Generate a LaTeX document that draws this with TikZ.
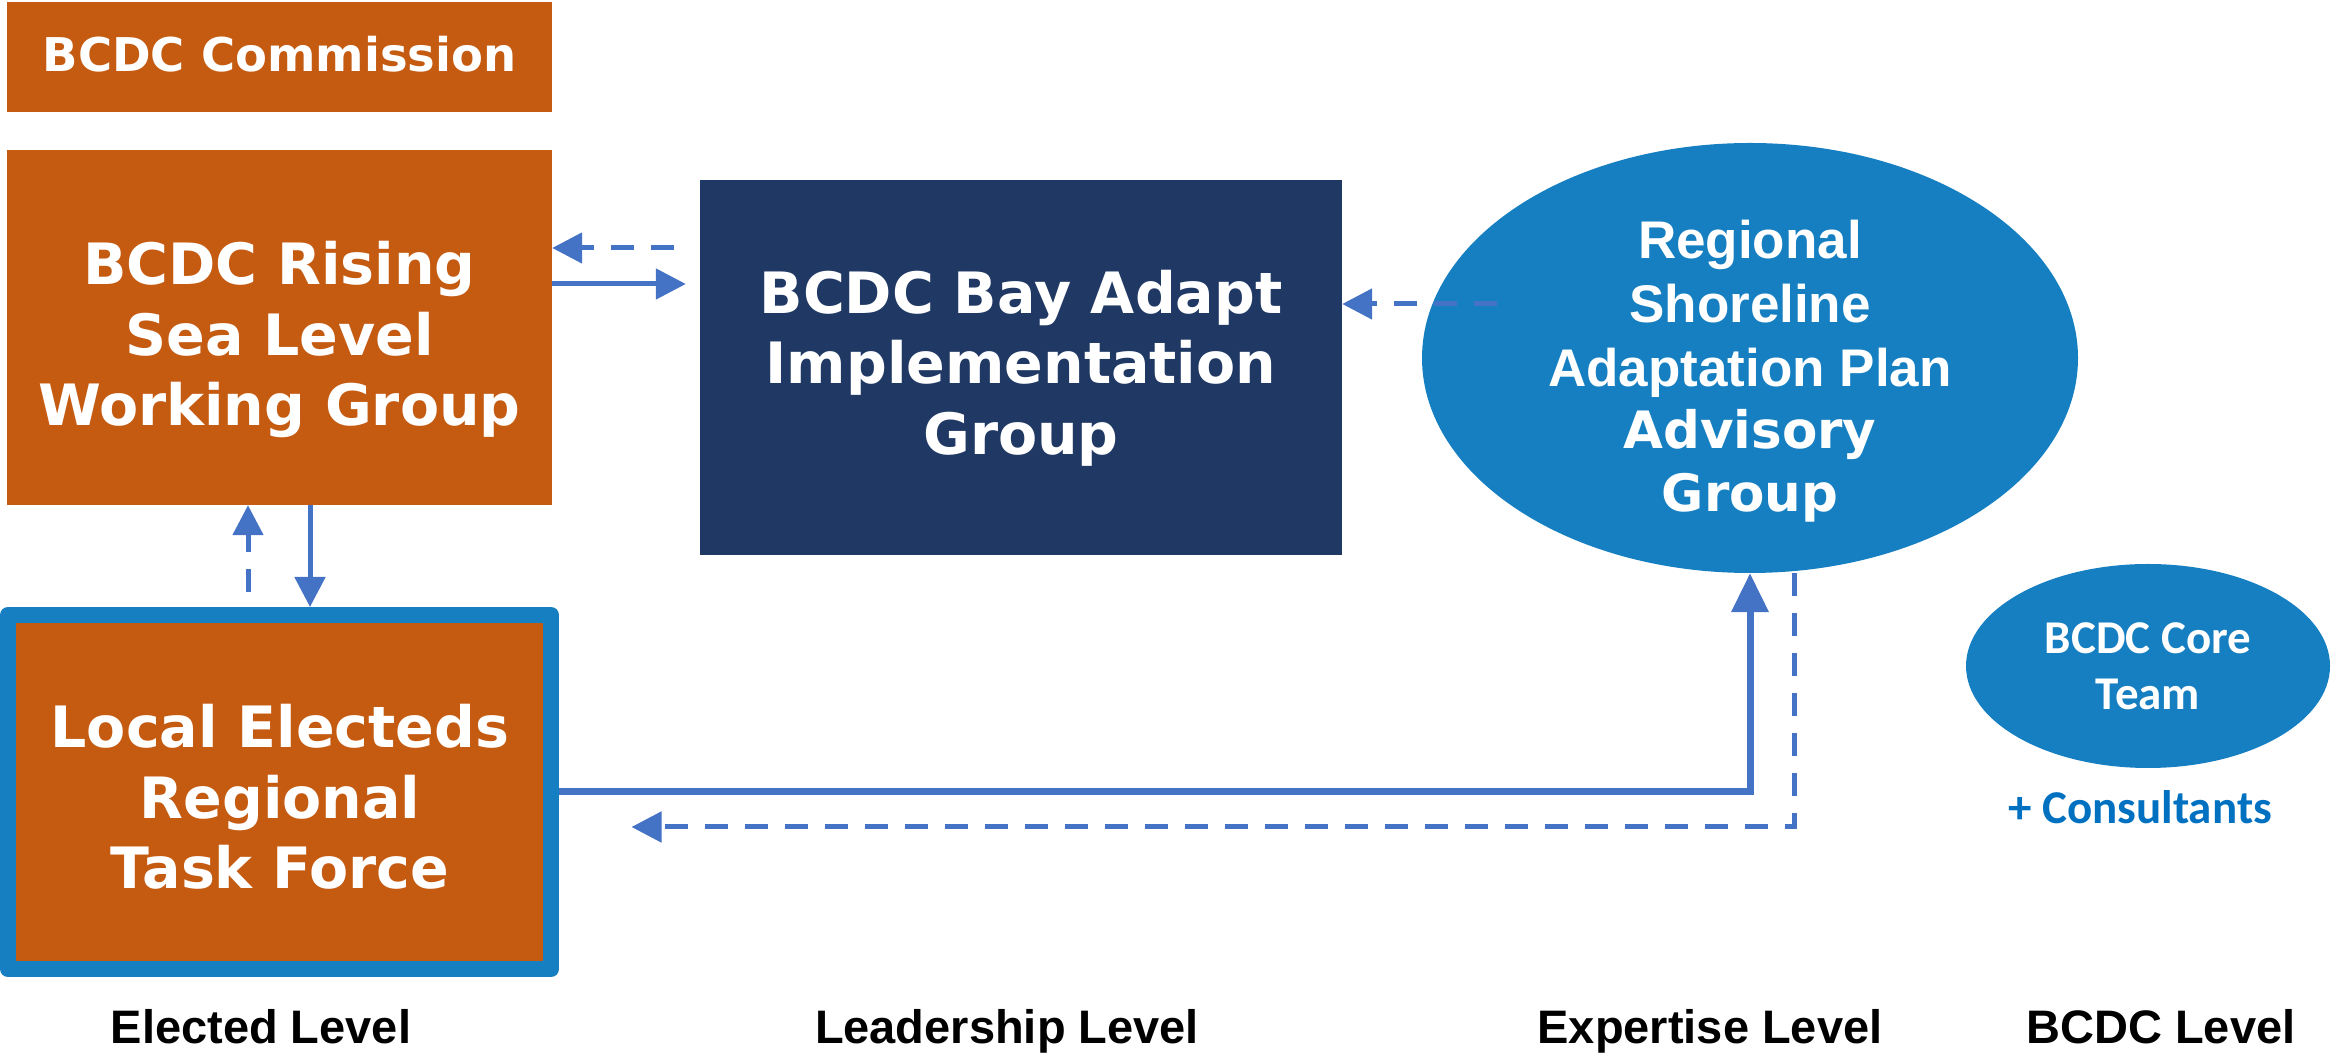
\documentclass[tikz,border=0pt]{standalone}
\usepackage{fontspec}
\usetikzlibrary{arrows.meta,shapes.geometric}
\newfontfamily\dejavu{DejaVu Sans}
\newfontfamily\libsans{Liberation Sans}
\newfontfamily\carlito{Carlito}
\definecolor{orng}{HTML}{C55A11}
\definecolor{navy}{HTML}{203864}
\definecolor{ellblue}{HTML}{167FC1}
\definecolor{arrblue}{HTML}{4472C4}
\definecolor{consblue}{HTML}{0070C0}
\begin{document}
\begin{tikzpicture}[x=1pt,y=1pt,
  obox/.style={rectangle, inner sep=0pt, fill=orng},
  nbox/.style={rectangle, inner sep=0pt, fill=navy},
  bbox/.style={rectangle, inner sep=0pt, fill=orng, draw=ellblue, line width=16pt, line join=round},
  ell/.style={ellipse, inner sep=0pt, fill=ellblue},
  txt/.style={text=white, inner sep=0pt, anchor=base},
  bigtxt/.style={txt, font=\dejavu\bfseries\fontsize{57pt}{60pt}\selectfont},
  comtxt/.style={txt, font=\dejavu\bfseries\fontsize{46.5pt}{50pt}\selectfont},
  ariatxt/.style={txt, font=\libsans\bfseries\fontsize{53pt}{56pt}\selectfont},
  advtxt/.style={txt, font=\dejavu\bfseries\fontsize{51.5pt}{55pt}\selectfont},
  coretxt/.style={txt, font=\carlito\bfseries\fontsize{47pt}{50pt}\selectfont},
  constxt/.style={inner sep=0pt, anchor=base, text=consblue, font=\carlito\bfseries\fontsize{47pt}{50pt}\selectfont},
  lvltxt/.style={inner sep=0pt, anchor=base, text=black, font=\libsans\bfseries\fontsize{47pt}{50pt}\selectfont},
  conn/.style={draw=arrblue, line width=5pt},
  dashline/.style={conn, dash pattern=on 23pt off 17pt},
  arrowend/.style={-{Triangle[length=30pt,width=30pt]}},
  bigarrowend/.style={-{Triangle[length=39pt,width=36pt]}}
]
\useasboundingbox (0,0) rectangle (2331,1052);

% boxes
\node[obox, minimum width=545pt, minimum height=110pt] (comm) at (279.5,995) {};
\node[obox, minimum width=545pt, minimum height=355pt] (rising) at (279.5,724.5) {};
\node[nbox, minimum width=642pt, minimum height=375pt] (bay) at (1021,684.5) {};
\node[bbox, minimum width=543pt, minimum height=354pt] (local) at (279.5,260) {};
\node[ell, minimum width=656pt, minimum height=430pt] (rsap) at (1750,694) {};
\node[ell, minimum width=364pt, minimum height=204pt] (core) at (2148,386) {};

% texts
\node[comtxt] (commt) at (279.5,980) {BCDC Commission};
\node[bigtxt] (rt1) at (279.5,767) {BCDC Rising};
\node[bigtxt] (rt2) at (279.5,696) {Sea Level};
\node[bigtxt] (rt3) at (279.5,626) {Working Group};
\node[bigtxt] (bt1) at (1021,738) {BCDC Bay Adapt};
\node[bigtxt] (bt2) at (1021,668) {Implementation};
\node[bigtxt] (bt3) at (1021,597) {Group};
\node[bigtxt] (lt1) at (280,304) {Local Electeds};
\node[bigtxt] (lt2) at (280,233) {Regional};
\node[bigtxt] (lt3) at (280,163) {Task Force};
\node[ariatxt] (et1) at (1750,793) {Regional};
\node[ariatxt] (et2) at (1750,729) {Shoreline};
\node[ariatxt] (et3) at (1750,665) {Adaptation Plan};
\node[advtxt] (et4) at (1750,603) {Advisory};
\node[advtxt] (et5) at (1750,540) {Group};
\node[coretxt] (ct1) at (2148,398) {BCDC Core};
\node[coretxt] (ct2) at (2148,342) {Team};
\node[constxt] (cons) at (2140,228) {+ Consultants};

\node[lvltxt] (lv1) at (261,9) {Elected Level};
\node[lvltxt] (lv2) at (1007,9) {Leadership Level};
\node[lvltxt] (lv3) at (1710,9) {Expertise Level};
\node[lvltxt] (lv4) at (2161,9) {BCDC Level};

% connectors
\draw[dashline, arrowend] ([xshift=-26pt,yshift=119.5pt]bay.west) -- ([yshift=79.5pt]rising.east);
\draw[conn, arrowend] ([yshift=43.5pt]rising.east) -- ([xshift=-14pt,yshift=83.5pt]bay.west);
\draw[dashline, arrowend] ([xshift=-253pt,yshift=54pt]rsap.center) -- ([yshift=63.5pt]bay.east);
\draw[dashline, arrowend] ([xshift=-31.5pt,yshift=14.5pt]local.north) -- ([xshift=-31.5pt]rising.south);
\draw[conn, arrowend] ([xshift=30.5pt]rising.south) -- ([xshift=30.5pt]local.north);
\draw[conn, line width=7pt, bigarrowend] (local.east) -| (rsap.south);
\draw[dashline, arrowend] ([xshift=44pt]rsap.south) |- ([xshift=72.5pt,yshift=-35pt]local.east);
\end{tikzpicture}
\end{document}
